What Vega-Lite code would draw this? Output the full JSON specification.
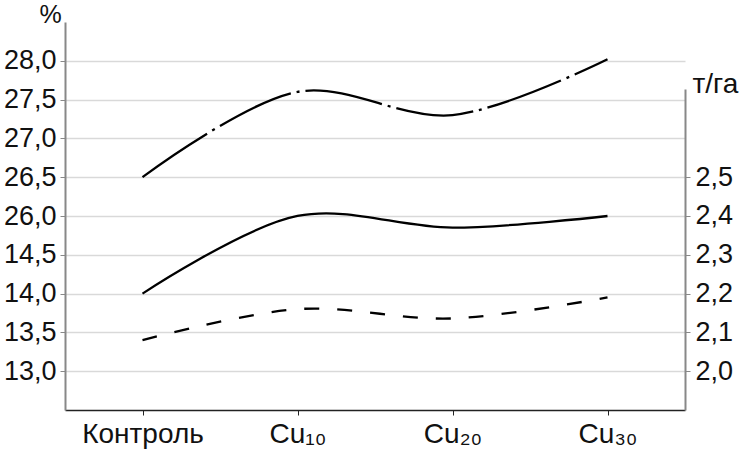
{
  "$schema": "https://vega.github.io/schema/vega-lite/v6.json",
  "width": 620,
  "height": 388,
  "autosize": {"type": "none"},
  "padding": {"left": 65, "top": 22, "right": 54, "bottom": 42},
  "background": "white",
  "config": {
    "view": {"stroke": null},
    "font": "Liberation Sans",
    "axis": {"labelFont": "Liberation Sans", "titleFont": "Liberation Sans", "labelColor": "#111111", "titleColor": "#111111", "titleFontWeight": "normal"}
  },
  "data": {
    "values": [
      {"x": "Контроль", "series": "A", "value": 26.5},
      {"x": "Cu₁₀", "series": "A", "value": 27.6},
      {"x": "Cu₂₀", "series": "A", "value": 27.3},
      {"x": "Cu₃₀", "series": "A", "value": 28.02},
      {"x": "Контроль", "series": "B", "value": 13.4},
      {"x": "Cu₁₀", "series": "B", "value": 13.8},
      {"x": "Cu₂₀", "series": "B", "value": 13.68},
      {"x": "Cu₃₀", "series": "B", "value": 13.95},
      {"x": "Контроль", "series": "C", "value": 2.2},
      {"x": "Cu₁₀", "series": "C", "value": 2.4},
      {"x": "Cu₂₀", "series": "C", "value": 2.37},
      {"x": "Cu₃₀", "series": "C", "value": 2.4}
    ]
  },
  "encoding": {
    "x": {
      "field": "x",
      "type": "ordinal",
      "sort": ["Контроль", "Cu₁₀", "Cu₂₀", "Cu₃₀"],
      "scale": {"type": "point", "padding": 0.5},
      "axis": {
        "title": null,
        "labelAngle": 0,
        "labelFontSize": 28,
        "labelPadding": 5,
        "tickSize": 5,
        "tickColor": "#222222",
        "domainColor": "#222222",
        "domainWidth": 1.5,
        "grid": false
      }
    }
  },
  "layer": [
    {
      "transform": [{"filter": "datum.series !== 'C'"}],
      "mark": {"type": "line", "interpolate": "catmull-rom", "color": "black", "strokeWidth": 2.3},
      "encoding": {
        "y": {
          "field": "value",
          "type": "quantitative",
          "scale": {"type": "linear", "domain": [12.5, 14.5, 26, 28.5], "range": [388, 232.8, 194, 0], "zero": false, "nice": false},
          "axis": {
            "orient": "left",
            "values": [13, 13.5, 14, 14.5, 26, 26.5, 27, 27.5, 28],
            "labelExpr": "replace(format(datum.value, '.1f'), '.', ',')",
            "labelFontSize": 27,
            "labelPadding": 4,
            "tickSize": 5,
            "tickColor": "#888888",
            "domainColor": "#888888",
            "domainWidth": 2,
            "grid": true,
            "gridColor": "#d9d9d9",
            "gridWidth": 1.5,
            "title": "%",
            "titleAngle": 0,
            "titleFontSize": 25,
            "titleAlign": "center",
            "titleBaseline": "alphabetic",
            "titleX": -15,
            "titleY": 0
          }
        },
        "strokeDash": {
          "field": "series",
          "type": "nominal",
          "scale": {"domain": ["A", "B"], "range": [[78, 6, 3, 6], [15, 18]]},
          "legend": null
        }
      }
    },
    {
      "transform": [{"filter": "datum.series === 'C'"}],
      "mark": {"type": "line", "interpolate": "catmull-rom", "color": "black", "strokeWidth": 2.3},
      "encoding": {
        "y": {
          "field": "value",
          "type": "quantitative",
          "scale": {"type": "linear", "domain": [1.9, 2.7273], "range": [388, 67], "zero": false, "nice": false},
          "axis": {
            "orient": "right",
            "values": [2.0, 2.1, 2.2, 2.3, 2.4, 2.5],
            "labelExpr": "replace(format(datum.value, '.1f'), '.', ',')",
            "labelFontSize": 27,
            "labelPadding": 5,
            "tickSize": 5,
            "tickColor": "#888888",
            "domainColor": "#888888",
            "domainWidth": 2,
            "grid": false,
            "title": "т/га",
            "titleAngle": 0,
            "titleFontSize": 28,
            "titleAlign": "left",
            "titleBaseline": "alphabetic",
            "titleX": 7,
            "titleY": 70
          }
        }
      }
    }
  ],
  "resolve": {"scale": {"y": "independent"}, "axis": {"y": "independent"}}
}
